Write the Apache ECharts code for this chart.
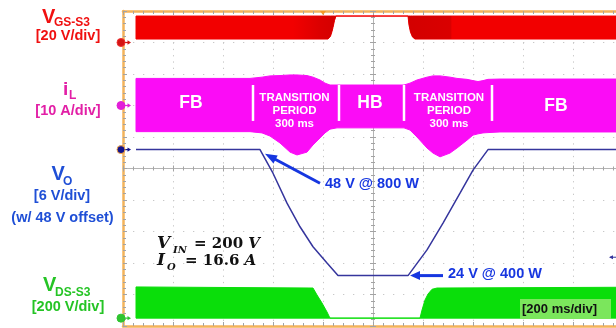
<!DOCTYPE html>
<html>
<head>
<meta charset="utf-8">
<title>FB / HB mode transition</title>
<script src="https://cdn.jsdelivr.net/npm/echarts@6.0.0/dist/echarts.min.js"></script>
<style>
  html, body { margin: 0; padding: 0; background: #fff; }
  #scope { width: 616px; height: 328px; }
</style>
</head>
<body>
<div id="scope"></div>
<script>
// ---- Acquisition data (time in ms, 200 ms/div) ----

// CH1  V_GS-S3 [V]: envelope of the switching gate drive
const vgsTime  = [52, 820, 830, 836, 840, 846, 852, 1140, 1144, 1150, 1158, 1168, 2000];
const vgsUpper = [16.8, 16.8, 16.8, 16.8, 16.8, 16.8, 16.8, 16.8, 16.8, 16.8, 16.8, 16.8, 16.8];
const vgsLower = [2.2, 2.2, 4.0, 7.0, 9.5, 14.0, 16.8, 16.8, 11.0, 6.5, 3.5, 2.2, 2.2];

// CH2  i_L [A]: ripple envelope of the inductor current
const iLTime  = [52, 508, 556, 588, 628, 668, 696, 736, 760, 788, 808, 828, 856, 988, 1124, 1148, 1176, 1216, 1240, 1268, 1308, 1336, 1376, 1400, 1420, 1440, 1460, 1508, 2000];
const iLUpper = [8.6, 8.6, 9.0, 9.4, 9.5, 9.7, 9.7, 9.5, 9.0, 8.1, 7.1, 6.5, 6.5, 6.5, 6.5, 7.1, 8.1, 9.0, 9.4, 9.4, 9.0, 8.6, 8.3, 7.9, 7.6, 7.9, 8.3, 8.4, 8.4];
const iLLower = [-8.3, -8.3, -8.7, -9.7, -11.9, -14.8, -15.7, -14.8, -12.5, -10.3, -8.7, -7.5, -7.1, -7.1, -7.1, -7.8, -10.0, -13.5, -15.1, -16.3, -15.1, -13.5, -11.0, -9.4, -9.0, -8.7, -8.6, -8.4, -8.4];

// CH3  V_O [V]
const voTime  = [52, 548, 600, 656, 708, 760, 816, 860, 1140, 1216, 1280, 1348, 1400, 1460, 2000];
const voValue = [48, 48, 43.5, 37.8, 33.3, 29.5, 26.4, 24, 24, 28.9, 34, 39.7, 44.1, 48, 48];

// CH4  V_DS-S3 [V]: envelope of the switch-node voltage
const vdsTime  = [52, 760, 776, 796, 816, 828, 1188, 1196, 1208, 1220, 1236, 1256, 2000];
const vdsUpper = [198, 191, 147, 96, 39, 0, 0, 51, 115, 153, 183, 191, 196];
const vdsLower = [0, 0, 0, 0, 0, 0, 0, 0, 0, 0, 0, 0, 0];

// Operating points called out on V_O
const calloutLabels = ['48 V @ 800 W', '24 V @ 400 W'];
const calloutValues = [48, 24];

// ---- Scope settings ----
const TIME_SPAN = 2000;     // 10 div x 200 ms
const DIVS = 10;            // vertical divisions
const TRIG_TIME = 800;      // trigger point (ms)
const VO_TRIG_LEVEL = 27.5; // trigger level on CH3 (V)

// vertical channel range from volts/div and the level sitting at a given division
function chRange(perDiv, level, levelDiv) {
  const min = level - levelDiv * perDiv;
  return { min: min, max: min + DIVS * perDiv };
}
const ch1 = chRange(20, 0, 9);
const ch2 = chRange(10, 0, 7);
const ch3 = chRange(6, 48, 5.6);
const ch4 = chRange(200, 0, 0.25);

const SANS = '"Liberation Sans", Arial, sans-serif';
const SERIF = '"DejaVu Serif", serif';
const BORDER = '#f3b35a';
const TICK = '#a3a3a3';

const C_RED = '#f20000', C_RED_DK = '#d30000', C_MAG = '#fb0cf6', C_NAVY = '#35359d', C_GREEN = '#0ade0a';
const C_CALL = '#1636e0';

// ---- helpers ----
function lerp(t, t0, v0, t1, v1) { return v0 + (v1 - v0) * (t - t0) / (t1 - t0); }

// envelope restricted to [a, b] (ends interpolated)
function subEnvelope(t, up, lo, a, b) {
  const out = { t: [], up: [], lo: [] };
  function at(x) {
    for (let i = 0; i < t.length - 1; i++) {
      if (x >= t[i] && x <= t[i + 1]) {
        return [lerp(x, t[i], up[i], t[i + 1], up[i + 1]), lerp(x, t[i], lo[i], t[i + 1], lo[i + 1])];
      }
    }
    return [up[up.length - 1], lo[lo.length - 1]];
  }
  const s = at(a); out.t.push(a); out.up.push(s[0]); out.lo.push(s[1]);
  for (let i = 0; i < t.length; i++) {
    if (t[i] > a && t[i] < b) { out.t.push(t[i]); out.up.push(up[i]); out.lo.push(lo[i]); }
  }
  const e = at(b); out.t.push(b); out.up.push(e[0]); out.lo.push(e[1]);
  return out;
}

function bandSeries(yAxisIndex, t, up, lo, color, shades) {
  return {
    type: 'custom', xAxisIndex: 0, yAxisIndex: yAxisIndex, z: 2,
    silent: true, clip: true, data: [[t[0], up[0]]],
    renderItem: function (params, api) {
      function poly(tt, uu, ll, fill, stroke) {
        const pts = [];
        for (let i = 0; i < tt.length; i++) pts.push(api.coord([tt[i], uu[i]]));
        for (let i = tt.length - 1; i >= 0; i--) pts.push(api.coord([tt[i], ll[i]]));
        return { type: 'polygon', shape: { points: pts },
                 style: stroke ? { fill: fill, stroke: stroke, lineWidth: 1 } : { fill: fill } };
      }
      const kids = [poly(t, up, lo, color, color)];
      (shades || []).forEach(function (s) {
        const e = subEnvelope(t, up, lo, s.from, s.to);
        const x0 = api.coord([s.from, 0])[0], x1 = api.coord([s.to, 0])[0];
        const fill = new echarts.graphic.LinearGradient(0, 0, 1, 0, s.stops);
        const p = poly(e.t, e.up, e.lo, fill, null);
        kids.push(p);
      });
      return { type: 'group', children: kids };
    }
  };
}

function arrowParts(tail, tip, color, width, headLen, headW) {
  const dx = tip[0] - tail[0], dy = tip[1] - tail[1];
  const L = Math.hypot(dx, dy), ux = dx / L, uy = dy / L;
  const bx = tip[0] - ux * headLen, by = tip[1] - uy * headLen;
  return [
    { type: 'line', shape: { x1: tail[0], y1: tail[1], x2: bx + ux, y2: by + uy },
      style: { stroke: color, lineWidth: width } },
    { type: 'polygon', shape: { points: [tip, [bx - uy * headW / 2, by + ux * headW / 2], [bx + uy * headW / 2, by - ux * headW / 2]] },
      style: { fill: color } }
  ];
}

function groundMarker(yAxisIndex, level, fill, ring) {
  return {
    type: 'custom', xAxisIndex: 0, yAxisIndex: yAxisIndex, z: 6, silent: true, clip: false,
    data: [[0, level]],
    renderItem: function (params, api) {
      const p = api.coord([api.value(0), api.value(1)]);
      const x = p[0] - 2, y = p[1];
      return { type: 'group', children: [
        { type: 'line', shape: { x1: x + 3, y1: y, x2: x + 7, y2: y }, style: { stroke: fill, lineWidth: 1.2 } },
        { type: 'polygon', shape: { points: [[x + 10, y], [x + 6.5, y - 2.2], [x + 6.5, y + 2.2]] }, style: { fill: fill } },
        { type: 'circle', shape: { cx: x, cy: y, r: 4 }, style: { fill: fill, stroke: ring, lineWidth: 1 } }
      ] };
    }
  };
}

// text placed by its baseline (cap-centred with middle alignment)
function label(text, x, baseline, size, color, align, opts) {
  opts = opts || {};
  return {
    type: 'text', x: x, y: baseline - 0.36 * size, z: 20, silent: true,
    style: Object.assign({
      text: text, fill: color, align: align || 'left', verticalAlign: 'middle',
      font: (opts.style || 'normal') + ' bold ' + size + 'px ' + (opts.family || SANS)
    }, opts.extra || {})
  };
}

function pairs(t, v) { return t.map(function (x, i) { return [x, v[i]]; }); }

// ---- chart ----
const chart = echarts.init(document.getElementById('scope'), null, { renderer: 'canvas' });

const dotsV = { color: '#c8c8c8', width: 1, type: [1.3, 5] };
const dotsH = { color: '#c8c8c8', width: 1, type: [1.3, 8.7] };

const mathRich = {
  n: { font: 'bold 15px ' + SERIF, fill: '#111' },
  i: { font: 'italic bold 15px ' + SERIF, fill: '#111' }
};

const option = {
  animation: false,
  backgroundColor: '#ffffff',
  grid: { left: 123, top: 11, width: 500, height: 315, outerBoundsMode: 'none', containLabel: false },
  xAxis: [
    { type: 'value', min: 0, max: TIME_SPAN, interval: TIME_SPAN / 10, position: 'bottom',
      axisLine: { show: true, onZero: false, lineStyle: { color: BORDER, width: 2.5 } },
      axisTick: { show: true, inside: true, length: 4, lineStyle: { color: TICK } },
      minorTick: { show: true, splitNumber: 5, length: 3, lineStyle: { color: TICK } },
      axisLabel: { show: false }, splitLine: { show: true, lineStyle: dotsV } },
    { type: 'value', min: 0, max: TIME_SPAN, interval: TIME_SPAN / 10, position: 'top',
      axisLine: { show: true, onZero: false, lineStyle: { color: BORDER, width: 2.5 } },
      axisTick: { show: true, inside: true, length: 4, lineStyle: { color: TICK } },
      minorTick: { show: true, splitNumber: 5, length: 3, lineStyle: { color: TICK } },
      axisLabel: { show: false }, splitLine: { show: false } },
    { type: 'value', min: -5, max: 5, interval: 1, position: 'bottom',
      axisLine: { show: true, onZero: true, onZeroAxisIndex: 1, lineStyle: { color: '#b4b4b4', width: 1 } },
      axisTick: { show: true, inside: true, length: 3, lineStyle: { color: TICK } },
      minorTick: { show: true, splitNumber: 5, length: 2, lineStyle: { color: TICK } },
      axisLabel: { show: false }, splitLine: { show: false } },
    { type: 'value', min: -5, max: 5, interval: 1, position: 'bottom',
      axisLine: { show: false, onZero: true, onZeroAxisIndex: 1 },
      axisTick: { show: true, inside: false, length: 3, lineStyle: { color: TICK } },
      minorTick: { show: true, splitNumber: 5, length: 2, lineStyle: { color: TICK } },
      axisLabel: { show: false }, splitLine: { show: false } }
  ],
  yAxis: [
    { type: 'value', min: 0, max: DIVS, interval: 1, position: 'left',
      axisLine: { show: true, onZero: false, lineStyle: { color: BORDER, width: 2.5 } },
      axisTick: { show: true, inside: true, length: 4, lineStyle: { color: TICK } },
      minorTick: { show: true, splitNumber: 5, length: 3, lineStyle: { color: TICK } },
      axisLabel: { show: false }, splitLine: { show: true, lineStyle: dotsH } },
    { type: 'value', min: -5, max: 5, interval: 1, position: 'left',
      axisLine: { show: true, onZero: true, onZeroAxisIndex: 2, lineStyle: { color: '#b4b4b4', width: 1 } },
      axisTick: { show: true, inside: true, length: 3, lineStyle: { color: TICK } },
      minorTick: { show: true, splitNumber: 5, length: 2, lineStyle: { color: TICK } },
      axisLabel: { show: false }, splitLine: { show: false } },
    { type: 'value', min: -5, max: 5, interval: 1, position: 'left',
      axisLine: { show: false, onZero: true, onZeroAxisIndex: 2 },
      axisTick: { show: true, inside: false, length: 3, lineStyle: { color: TICK } },
      minorTick: { show: true, splitNumber: 5, length: 2, lineStyle: { color: TICK } },
      axisLabel: { show: false }, splitLine: { show: false } },
    { type: 'value', show: false, min: ch1.min, max: ch1.max },
    { type: 'value', show: false, min: ch2.min, max: ch2.max },
    { type: 'value', show: false, min: ch3.min, max: ch3.max },
    { type: 'value', show: false, min: ch4.min, max: ch4.max }
  ],
  series: [
    bandSeries(3, vgsTime, vgsUpper, vgsLower, C_RED, [
      { from: 680, to: 856, stops: [{ offset: 0, color: C_RED }, { offset: 0.6, color: '#dc0000' }, { offset: 1, color: C_RED_DK }] },
      { from: 1136, to: 1316, stops: [{ offset: 0, color: C_RED_DK }, { offset: 0.97, color: '#da0000' }, { offset: 1, color: C_RED }] }
    ]),
    bandSeries(4, iLTime, iLUpper, iLLower, C_MAG),
    bandSeries(6, vdsTime, vdsUpper, vdsLower, C_GREEN),
    { type: 'line', name: 'V_O', xAxisIndex: 0, yAxisIndex: 5, z: 4, silent: true,
      data: pairs(voTime, voValue), showSymbol: false, symbol: 'none', clip: true,
      lineStyle: { color: C_NAVY, width: 1.5 } },

    groundMarker(3, 0, '#d41414', '#e33'),
    groundMarker(4, 0, '#e21ed8', '#e21ed8'),
    groundMarker(5, 48, '#12128c', '#f0a54a'),
    groundMarker(6, 0, '#2fc42f', '#2fc42f'),

    // mode annotations inside the i_L trace
    { type: 'custom', xAxisIndex: 0, yAxisIndex: 4, z: 8, silent: true, clip: false,
      data: [[0, 0]],
      renderItem: function (params, api) {
        const kids = [];
        [520, 864, 1124, 1476].forEach(function (t) {
          const a = api.coord([t, 6.5]), b = api.coord([t, -4.9]);
          kids.push({ type: 'line', shape: { x1: a[0], y1: a[1], x2: b[0], y2: b[1] },
                      style: { stroke: '#ffffff', lineWidth: 2.5 } });
        });
        [['FB', 272, 0.6], ['HB', 988, 0.6], ['FB', 1732, -0.3]].forEach(function (m) {
          const p = api.coord([m[1], m[2]]);
          kids.push({ type: 'text', x: p[0], y: p[1],
            style: { text: m[0], fill: '#ffffff', align: 'center', verticalAlign: 'middle',
                     font: 'bold 17.5px ' + SANS } });
        });
        [686, 1304].forEach(function (t) {
          const p = api.coord([t, -1.6]);
          kids.push({ type: 'text', x: p[0], y: p[1],
            style: { text: 'TRANSITION\nPERIOD\n300 ms', fill: '#ffffff', align: 'center',
                     verticalAlign: 'middle', lineHeight: 13, font: 'bold 11.5px ' + SANS } });
        });
        return { type: 'group', children: kids };
      } },

    // operating-point callouts on V_O
    { type: 'custom', xAxisIndex: 0, yAxisIndex: 5, z: 9, silent: true, clip: false,
      data: [[788, 41.6], [1280, calloutValues[1]]],
      renderItem: function (params, api) {
        const i = params.dataIndex;
        const tail = api.coord([api.value(0), api.value(1)]);
        const tip = i === 0 ? api.coord([568, 47.2]) : api.coord([1148, calloutValues[1]]);
        const kids = arrowParts(tail, tip, C_CALL, 3, i === 0 ? 12 : 10, 9);
        kids.push({ type: 'text', x: tail[0] + 5, y: tail[1] + (i === 0 ? 1 : -2),
          style: { text: calloutLabels[i], fill: C_CALL, align: 'left', verticalAlign: 'middle',
                   font: 'bold 14.5px ' + SANS } });
        return { type: 'group', children: kids };
      } },

    // trigger position (top) and CH3 trigger level (right edge)
    { type: 'custom', xAxisIndex: 0, yAxisIndex: 5, z: 9, silent: true, clip: false,
      data: [[TRIG_TIME, VO_TRIG_LEVEL]],
      renderItem: function (params, api) {
        const top = api.coord([api.value(0), ch3.max]);
        const lvl = api.coord([TIME_SPAN, api.value(1)]);
        return { type: 'group', children: [
          { type: 'polygon', shape: { points: [[top[0] - 3, top[1]], [top[0] + 3, top[1]], [top[0], top[1] + 4]] },
            style: { fill: '#f39a2a' } },
          { type: 'line', shape: { x1: lvl[0] - 13, y1: lvl[1], x2: lvl[0] - 4, y2: lvl[1] },
            style: { stroke: C_NAVY, lineWidth: 1 } },
          { type: 'polygon', shape: { points: [[lvl[0] - 14, lvl[1]], [lvl[0] - 10, lvl[1] - 2], [lvl[0] - 10, lvl[1] + 2]] },
            style: { fill: C_NAVY } }
        ] };
      } }
  ],
  graphic: [
    // channel captions
    label('V', 42, 25, 20, '#f01010'),
    label('GS-S3', 54, 27.5, 12, '#f01010'),
    label('[20 V/div]', 68, 41.5, 14.5, '#f01010', 'center'),

    label('i', 63, 97, 19, '#e21fa6'),
    label('L', 69, 100.5, 12, '#e21fa6'),
    label('[10 A/div]', 68, 116.5, 14.5, '#e21fa6', 'center'),

    label('V', 51.5, 181.5, 20, '#1f4fd6'),
    label('O', 63, 186, 12, '#1f4fd6'),
    label('[6 V/div]', 62, 201.5, 14.5, '#1f4fd6', 'center'),
    label('(w/ 48 V offset)', 62.5, 223.5, 14.5, '#1f4fd6', 'center'),

    label('V', 43, 293, 20, '#25c425'),
    label('DS-S3', 55, 297, 12, '#25c425'),
    label('[200 V/div]', 68, 312.5, 14.5, '#25c425', 'center'),

    // test conditions
    label('V', 157, 250, 17, '#111', 'left', { style: 'italic', family: SERIF }),
    label('IN', 173, 254, 10, '#111', 'left', { style: 'italic', family: SERIF }),
    label('{n|= 200 }{i|V}', 194, 250, 15, '#111', 'left', { family: SERIF, extra: { rich: mathRich } }),
    label('I', 157, 267, 17, '#111', 'left', { style: 'italic', family: SERIF }),
    label('O', 167, 271, 10, '#111', 'left', { style: 'italic', family: SERIF }),
    label('{n|= 16.6 }{i|A}', 185, 267, 15, '#111', 'left', { family: SERIF, extra: { rich: mathRich } }),

    // time base box
    { type: 'rect', left: 520, top: 299, z: 19, silent: true,
      shape: { width: 91, height: 20 }, style: { fill: '#7be65c' } },
    label('[200 ms/div]', 522, 314, 13, '#111')
  ]
};

chart.setOption(option);
</script>
</body>
</html>
